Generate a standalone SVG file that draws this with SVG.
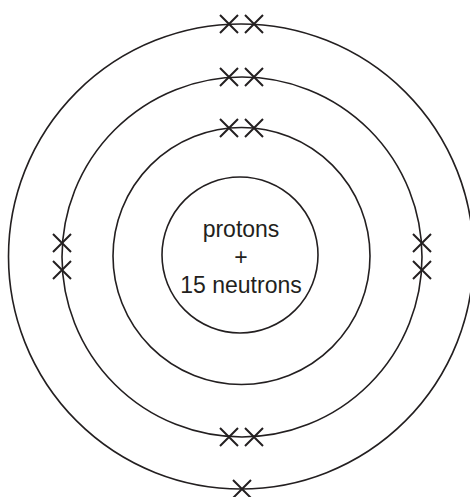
<svg xmlns="http://www.w3.org/2000/svg" width="470" height="497" viewBox="0 0 470 497">
<defs>
<style>
.shell{fill:none;stroke:#231f20;stroke-width:1.6}
.e{fill:none;stroke:#231f20;stroke-width:2}
.t{font-family:"Liberation Sans",Arial,sans-serif;font-size:23px;fill:#231f20;text-anchor:middle}
</style>
<path id="x" d="M-9,-9L9,9M-9,9L9,-9" class="e"/>
</defs>
<g id="shell3"><circle class="shell" cx="241" cy="256.5" r="232.5"/></g>
<g id="shell2"><circle class="shell" cx="242" cy="257" r="180"/></g>
<g id="shell1"><circle class="shell" cx="241.5" cy="256" r="128.5"/></g>
<g id="nucleus">
<circle class="shell" cx="240" cy="255" r="78"/>
<text class="t" x="241" y="237">protons</text>
<text class="t" x="241" y="265">+</text>
<text class="t" x="241" y="293">15 neutrons</text>
</g>
<g id="electrons">
<use href="#x" x="229" y="24"/><use href="#x" x="254" y="24"/>
<use href="#x" x="229" y="77"/><use href="#x" x="254" y="77"/>
<use href="#x" x="229" y="128"/><use href="#x" x="254" y="128"/>
<use href="#x" x="62" y="243"/><use href="#x" x="62" y="270"/>
<use href="#x" x="422" y="243"/><use href="#x" x="422" y="270"/>
<use href="#x" x="229" y="437"/><use href="#x" x="254" y="437"/>
<use href="#x" x="242" y="489"/>
</g>
</svg>
